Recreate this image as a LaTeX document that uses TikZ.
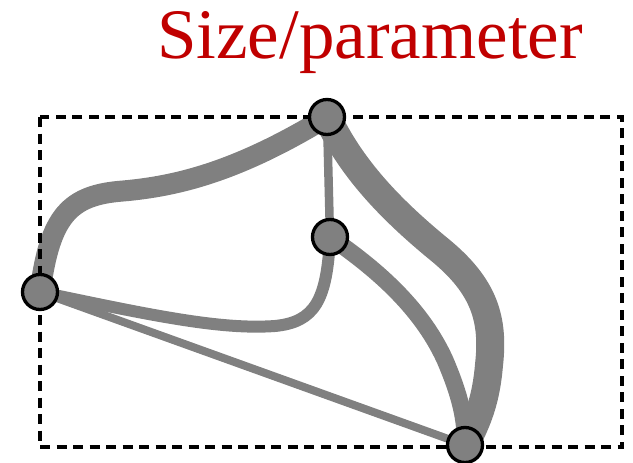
\documentclass[tikz,border=0pt]{standalone}
\usepackage{fontspec}
\setmainfont{Liberation Serif}
\usetikzlibrary{backgrounds}
\definecolor{edgegray}{RGB}{128,128,128}
\definecolor{titlered}{RGB}{192,0,0}
\tikzset{
  vert/.style={circle,draw=black,fill=edgegray,line width=3.3pt,minimum size=35pt,inner sep=0pt},
  edge/.style={draw=edgegray,line cap=round},
  frame/.style={draw=black,line width=3.5pt,dash pattern=on 10pt off 6.5pt}
}
\begin{document}
\begin{tikzpicture}[x=1pt,y=-1pt]
\useasboundingbox (0,0) rectangle (633,463);
\node[anchor=base west,inner sep=0pt,text=titlered,font=\fontsize{71}{76}\selectfont] (title) at (157,58) {Size/parameter};
\coordinate (fa) at (40,117);
\coordinate (fb) at (622,447);
\draw[frame] (fa) rectangle (fb);
\node[vert] (T) at (327,117) {};
\node[vert] (M) at (330,237) {};
\node[vert] (L) at (40,292) {};
\node[vert] (B) at (465,445) {};
\begin{scope}[on background layer]
\path[edge,line width=8pt] (L.center) -- (B.center);
\path[edge,line width=8.5pt] (T.center) -- (M.center);
\path[edge,line width=12pt] (L.center) .. controls (150,315) and (220,330) .. (275,326) .. controls (315,322) and (327,300) .. (M.center);
\path[edge,line width=17pt] (M.center) .. controls (372,266) and (420,305) .. (445,360) .. controls (460,395) and (466,420) .. (B.center);
\path[edge,line width=28pt] (T.center) .. controls (350,165) and (385,205) .. (440,250) .. controls (485,287) and (494,320) .. (489,365) .. controls (486,400) and (478,420) .. (B.center);
\path[edge,line width=21pt] (L.center) .. controls (50,215) and (70,195) .. (123,191) .. controls (180,186) and (240,170) .. (T.center);
\end{scope}
\end{tikzpicture}
\end{document}
